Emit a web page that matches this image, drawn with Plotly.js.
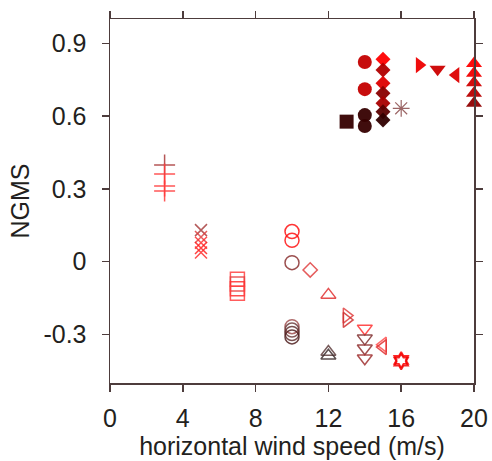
<!DOCTYPE html>
<html>
<head>
<meta charset="utf-8">
<script src="https://cdn.plot.ly/plotly-3.0.1.min.js"></script>
<style>html,body{margin:0;padding:0;background:#fff;}#chart{width:492px;height:461px;}</style>
</head>
<body>
<div id="chart"></div>
<script>
// ---- data ----
// filled markers (upper cluster)
const circFilledX = [14, 14, 14, 14];
const circFilledY = [0.823, 0.711, 0.604, 0.559];
const circFilledC = ['#c40000', '#c40000', '#360000', '#360000'];

const sqFilledX = [13];
const sqFilledY = [0.577];
const sqFilledC = ['#360000'];

const diaFilledX = [15, 15, 15, 15, 15, 15, 15];
const diaFilledY = [0.834, 0.790, 0.735, 0.694, 0.653, 0.618, 0.584];
const diaFilledC = ['#ff0000', '#b00000', '#dd0000', '#8a0000', '#a80000', '#5a0000', '#300000'];

const starX = [16];
const starY = [0.632];
const starC = ['#8a4a4a'];

const triRFilledX = [17];
const triRFilledY = [0.810];
const triRFilledC = ['#ee0000'];

const triDFilledX = [18];
const triDFilledY = [0.793];
const triDFilledC = ['#cc0000'];

const triLFilledX = [19];
const triLFilledY = [0.769];
const triLFilledC = ['#dd0000'];

const triUFilledX = [20, 20, 20, 20, 20];
const triUFilledY = [0.817, 0.776, 0.737, 0.694, 0.653];
const triUFilledC = ['#ff0000', '#f00000', '#d00000', '#b80000', '#900000'];

// open markers (lower cluster)
const plusX = [3, 3, 3, 3];
const plusY = [0.398, 0.361, 0.312, 0.291];
const plusC = ['#a83838', '#ff3a3a', '#ff3a3a', '#ff3a3a'];

const crossX = [5, 5, 5, 5, 5];
const crossY = [0.130, 0.102, 0.078, 0.056, 0.038];
const crossC = ['#a84040', '#e04040', '#ff3030', '#ff2020', '#ff3030'];

const sqOpenX = [7, 7, 7, 7];
const sqOpenY = [-0.072, -0.092, -0.112, -0.130];
const sqOpenC = ['#ff4040', '#e84040', '#ff3030', '#ff4040'];

const circOpenX = [10, 10, 10, 10, 10, 10, 10];
const circOpenY = [0.124, 0.088, -0.004, -0.268, -0.282, -0.296, -0.310];
const circOpenC = ['#ff1010', '#ff1010', '#8a3030', '#a05050', '#704040', '#603030', '#502020'];

const diaOpenX = [11];
const diaOpenY = [-0.034];
const diaOpenC = ['#e04040'];

const triUOpenX = [12, 12, 12];
const triUOpenY = [-0.137, -0.372, -0.388];
const triUOpenC = ['#e03030', '#604040', '#403030'];

const triROpenX = [13, 13];
const triROpenY = [-0.222, -0.240];
const triROpenC = ['#e04040', '#d03030'];

const triDOpenX = [14, 14, 14, 14];
const triDOpenY = [-0.275, -0.316, -0.357, -0.398];
const triDOpenC = ['#ff3030', '#803030', '#903030', '#a03030'];

const triLOpenX = [15, 15];
const triLOpenY = [-0.342, -0.352];
const triLOpenC = ['#ff5050', '#e03030'];

const hexX = [16, 16];
const hexY = [-0.405, -0.412];
const hexC = ['#ff0000', '#ee0000'];

// axis ticks
const xTicks = [0, 4, 8, 12, 16, 20];
const yTicks = [-0.3, 0, 0.3, 0.6, 0.9];
const yTickText = ['-0.3', '0', '0.3', '0.6', '0.9'];

// ---- traces ----
function filled(x, y, c, symbol, size) {
  return {x: x, y: y, type: 'scatter', mode: 'markers', hoverinfo: 'x+y', cliponaxis: false,
    marker: {symbol: symbol, size: size, color: c, opacity: 0.95, line: {width: 0}}};
}
function open(x, y, c, symbol, size, w) {
  return {x: x, y: y, type: 'scatter', mode: 'markers', hoverinfo: 'x+y', cliponaxis: false,
    marker: {symbol: symbol, size: size, color: c, opacity: 0.85, line: {color: c, width: w || 1.5}}};
}

const data = [
  open(plusX, plusY, plusC, 'cross-thin-open', 15, 1.5),
  open(crossX, crossY, crossC, 'x-thin-open', 12, 1.5),
  open(sqOpenX, sqOpenY, sqOpenC, 'square-open', 14, 1.5),
  open(circOpenX, circOpenY, circOpenC, 'circle-open', 14, 1.5),
  open(diaOpenX, diaOpenY, diaOpenC, 'diamond-open', 11, 1.5),
  open(triUOpenX, triUOpenY, triUOpenC, 'triangle-up-open', 13, 1.5),
  open(triROpenX, triROpenY, triROpenC, 'triangle-right-open', 13, 1.5),
  open(triDOpenX, triDOpenY, triDOpenC, 'triangle-down-open', 13, 1.5),
  open(triLOpenX, triLOpenY, triLOpenC, 'triangle-left-open', 13, 1.5),
  open(hexX, hexY, hexC, 'hexagram-open', 12, 1.8),
  open(starX, starY, starC, 'asterisk-open', 14, 1.2),
  filled(circFilledX, circFilledY, circFilledC, 'circle', 14),
  filled(sqFilledX, sqFilledY, sqFilledC, 'square', 14),
  filled(diaFilledX, diaFilledY, diaFilledC, 'diamond', 11.5),
  filled(triRFilledX, triRFilledY, triRFilledC, 'triangle-right', 14),
  filled(triDFilledX, triDFilledY, triDFilledC, 'triangle-down', 14),
  filled(triLFilledX, triLFilledY, triLFilledC, 'triangle-left', 14),
  filled(triUFilledX, triUFilledY, triUFilledC, 'triangle-up', 14)
];

const axisColor = '#4d3c3c';
const textColor = '#231f20';
const fontFam = 'Liberation Sans, Arial, Helvetica, sans-serif';
const fs = 25;

const layout = {
  width: 492, height: 461,
  margin: {l: 110, r: 18, t: 19, b: 78},
  paper_bgcolor: '#ffffff', plot_bgcolor: '#ffffff',
  showlegend: false,
  font: {family: fontFam, size: fs, color: textColor},
  xaxis: {
    range: [0, 20], tickvals: xTicks, ticktext: xTicks.map(String),
    showgrid: false, zeroline: false,
    showline: true, mirror: 'ticks', linecolor: axisColor, linewidth: 1.5,
    ticks: 'outside', ticklen: 7, tickwidth: 1.5, tickcolor: axisColor,
    tickfont: {family: fontFam, size: fs, color: textColor},
    ticklabelstandoff: 5,
    title: {text: 'horizontal wind speed (m/s)', font: {family: fontFam, size: fs, color: textColor}, standoff: 2},
    automargin: false
  },
  yaxis: {
    range: [-0.5, 1.0], tickvals: yTicks, ticktext: yTickText,
    showgrid: false, zeroline: false,
    showline: true, mirror: 'ticks', linecolor: axisColor, linewidth: 1.5,
    ticks: 'outside', ticklen: 7, tickwidth: 1.5, tickcolor: axisColor,
    tickfont: {family: fontFam, size: fs, color: textColor},
    ticklabelstandoff: 10,
    title: {text: 'NGMS', font: {family: fontFam, size: fs, color: textColor}, standoff: 6},
    automargin: false
  }
};

Plotly.newPlot('chart', data, layout, {displayModeBar: false, staticPlot: true});
</script>
</body>
</html>
